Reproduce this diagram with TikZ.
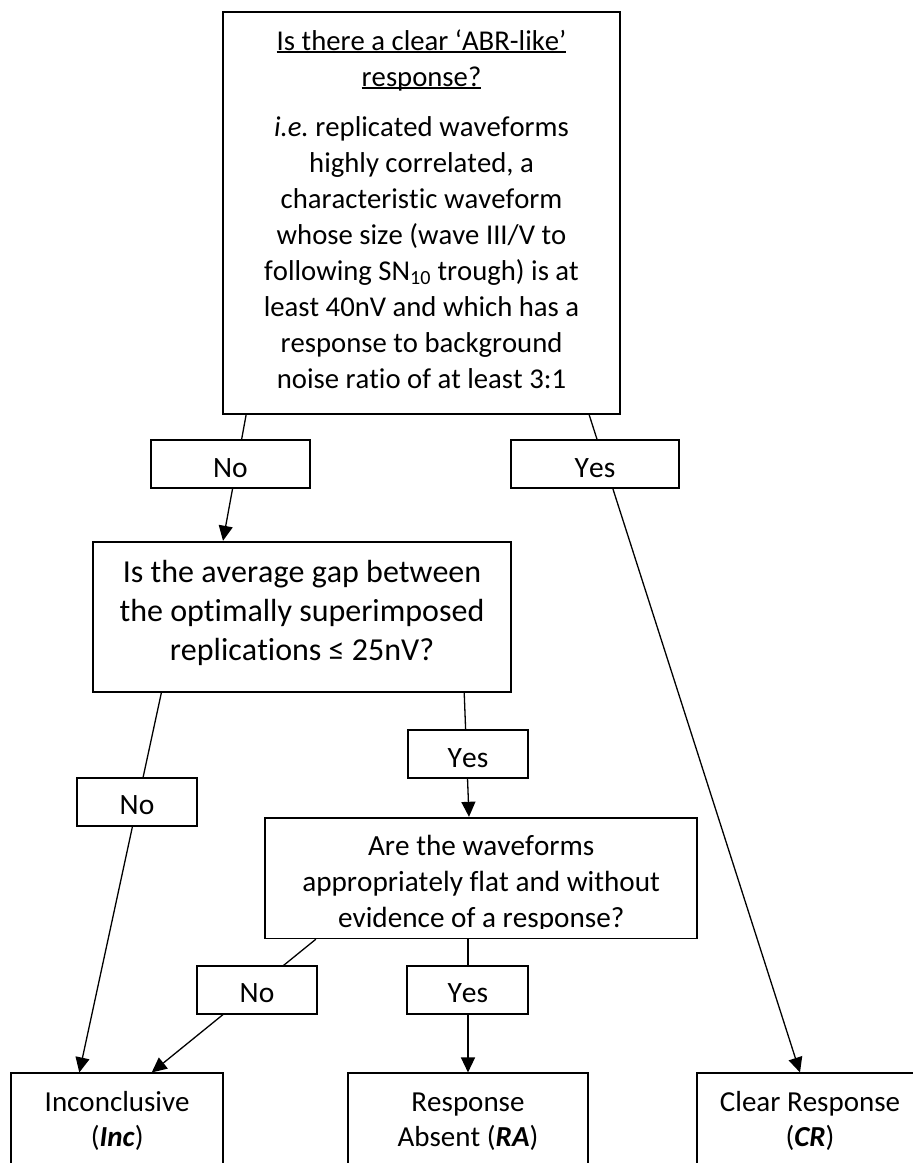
\documentclass[tikz,border=0pt]{standalone}
\usepackage{fontspec}
\setmainfont{Carlito}[Kerning=Off,Ligatures=NoCommon]
\usepackage{tikz}
\usetikzlibrary{arrows.meta}
\newcommand\wul[1]{\leavevmode\setbox0=\hbox{#1}\rlap{\rule[-2.8pt]{\wd0}{1.6pt}}\box0}
\frenchspacing

\begin{document}
\begin{tikzpicture}[x=1pt,y=-1pt]
\tikzset{qbox/.style={draw,line width=1.8pt,inner sep=0pt,align=flush center,font=\fontsize{28.7}{36}\selectfont},
         lbl/.style={draw,fill=white,line width=1.8pt,inner sep=0pt,text height=27pt,text depth=1pt,
                     minimum height=48.3pt,font=\fontsize{29.5}{32}\selectfont},
         endbox/.style={qbox,text height=38.4pt,text depth=68.3pt,font=\fontsize{29}{35}\selectfont},
         arr/.style={-{Triangle[length=15pt,width=14pt]},line width=1.3pt}}
\useasboundingbox (0,0) rectangle (913,1163);
    \node[qbox,text width=397.6pt,text height=38pt,text depth=364pt] (q1) at (421.5,213)
        {\wul{Is there a clear ‘ABR-like’}\\\wul{response?}\\[14pt]
         \textit{i.e.} replicated waveforms\\highly correlated, a\\characteristic waveform\\
         whose size (wave III/V to\\following SN\textsubscript{10} trough) is at\\
         least 40nV and which has a\\response to background\\noise ratio of at least 3:1};
    \node[qbox,text width=418.6pt,text height=41pt,text depth=109pt,font=\fontsize{32}{39}\selectfont] (q2) at (302,616.7)
        {Is the average gap between\\the optimally superimposed\\replications ≤ 25nV?};
    \node[qbox,text width=432.3pt,text height=38pt,text depth=82.6pt,font=\fontsize{29.2}{36}\selectfont] (q3) at (481.2,878)
        {Are the waveforms\\appropriately flat and without\\evidence of a response?};
    \fill[white] ([xshift=2pt,yshift=1.1pt]q3.south west) rectangle ([xshift=-2pt,yshift=10.5pt]q3.south east);
    \node[endbox,text width=212.3pt] (inc) at (117.2,1126.7) {Inconclusive\\(\textbf{\textit{Inc}})};
    \node[endbox,text width=240.6pt] (ra) at (468,1126.7) {Response\\Absent (\textbf{\textit{RA}})};
    \node[endbox,text width=226.6pt] (cr) at (810,1126.7) {Clear Response\\(\textbf{\textit{CR}})};

    \draw[arr] ([xshift=24.3pt]q1.south west) -- ([xshift=-79pt]q2.north);
    \draw[arr] ([xshift=-32pt]q1.south east) -- ([xshift=-10pt]cr.north);
    \draw[arr] ([xshift=69.6pt]q2.south west) -- ([xshift=-37.9pt]inc.north);
    \draw[arr] ([xshift=-48pt]q2.south east) -- ([xshift=-12.2pt]q3.north);
    \draw[arr] ([xshift=51.7pt]q3.south west) -- ([xshift=34.5pt]inc.north);
    \draw[arr] (q3.south -| ra.north) -- (ra.north);

    \node[lbl,minimum width=159.3pt] (no1) at (230.3,464.2) {No};
    \node[lbl,minimum width=168.6pt] (yes1) at (595,464.2) {Yes};
    \node[lbl,minimum width=120.6pt] (no2) at (137,801.8) {No};
    \node[lbl,minimum width=120.6pt] (yes2) at (468,754.2) {Yes};
    \node[lbl,minimum width=120.6pt] (no3) at (257,989.8) {No};
    \node[lbl,minimum width=121pt] (yes3) at (467.8,989.8) {Yes};
\end{tikzpicture}
\end{document}
